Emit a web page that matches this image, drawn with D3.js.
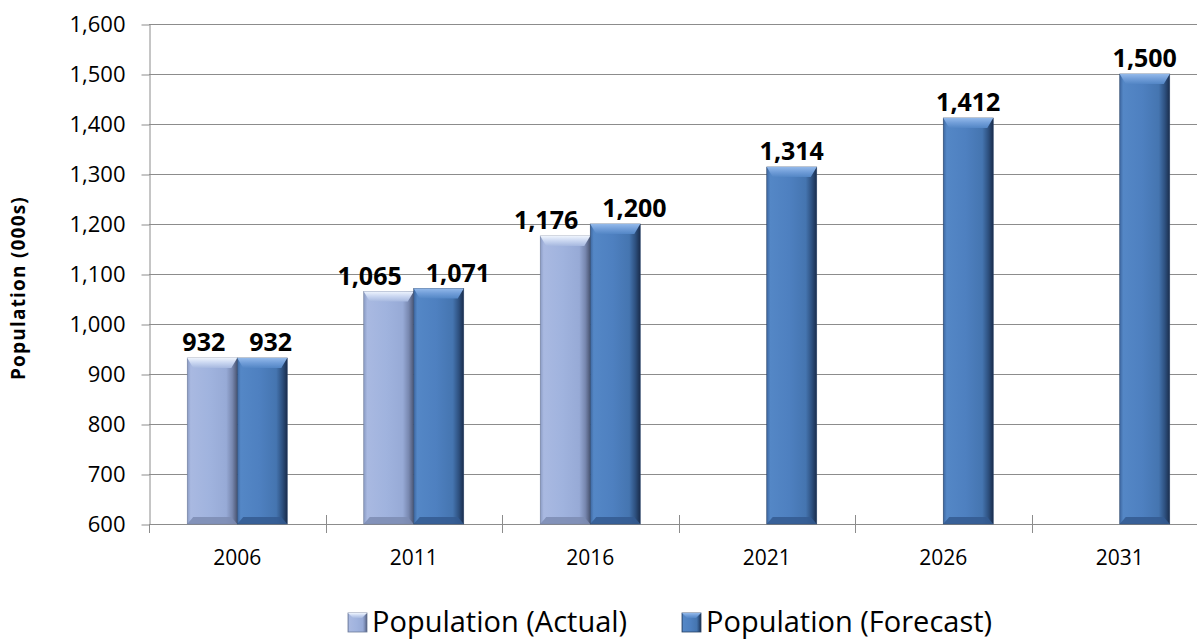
<!DOCTYPE html>
<html>
<head>
<meta charset="utf-8">
<script src="https://cdn.jsdelivr.net/npm/d3@7"></script>
<style>
  html, body { margin: 0; padding: 0; background: #fff; }
  svg { display: block; }
  text { font-family: "Open Sans", "DejaVu Sans", sans-serif; fill: #000; }
</style>
</head>
<body>
<svg id="chart" width="1198" height="639"></svg>
<script>
// Census years and population (thousands)
const years = ["2006", "2011", "2016", "2021", "2026", "2031"];
const actualValues = [932, 1065, 1176, null, null, null];
const forecastValues = [932, 1071, 1200, 1314, 1412, 1500];
const seriesNames = ["Population (Actual)", "Population (Forecast)"];
const yTicks = [600, 700, 800, 900, 1000, 1100, 1200, 1300, 1400, 1500, 1600];

const svg = d3.select("#chart");
const plotLeft = 149, plotTop = 24, plotBottom = 524, plotRight = 1208, clipRight = 1197;

const x = d3.scaleBand().domain(years).range([plotLeft, plotRight]).padding(0);
const barW = 50;
const sub = d3.scaleBand().domain(["a", "f"])
  .range([x.bandwidth() / 2 - barW, x.bandwidth() / 2 + barW]).padding(0);
const y = d3.scaleLinear().domain([600, 1600]).range([plotBottom, plotTop]);

// Gradients for the bevelled bars
const defs = svg.append("defs");
function hGrad(id, stops) {
  const g = defs.append("linearGradient").attr("id", id)
    .attr("x1", "0").attr("x2", "1").attr("y1", "0").attr("y2", "0");
  stops.forEach(s => g.append("stop").attr("offset", s[0]).attr("stop-color", s[1]));
}
function vGrad(id, stops) {
  const g = defs.append("linearGradient").attr("id", id)
    .attr("x1", "0").attr("x2", "0").attr("y1", "0").attr("y2", "1");
  stops.forEach(s => g.append("stop").attr("offset", s[0]).attr("stop-color", s[1]));
}
hGrad("bodyA", [[0, "#8a9bc4"], [0.07, "#a9b9e1"], [0.45, "#a0b3de"], [0.78, "#97aad6"], [0.9, "#7888b0"], [1, "#4a5572"]]);
hGrad("bodyF", [[0, "#3d67a0"], [0.07, "#5487c6"], [0.45, "#4e80c0"], [0.78, "#4575b0"], [0.9, "#2e5180"], [1, "#1a2d4c"]]);
vGrad("capA", [[0, "#eef4fd"], [0.5, "#c8d5f0"], [1, "#a6b8df"]]);
vGrad("capF", [[0, "#93b9ea"], [0.5, "#709dd8"], [1, "#5386c5"]]);

const theme = {
  a: { body: "url(#bodyA)", cap: "url(#capA)", base: "#7d8cb3", edge: "#6d7a99" },
  f: { body: "url(#bodyF)", cap: "url(#capF)", base: "#345b90", edge: "#2a4468" }
};

// Gridlines
svg.append("g").selectAll("line").data(yTicks.slice(1)).join("line")
  .attr("x1", plotLeft).attr("x2", clipRight)
  .attr("y1", d => Math.round(y(d)) + 0.5).attr("y2", d => Math.round(y(d)) + 0.5)
  .attr("stroke", "#8c8c8c").attr("stroke-width", 1);

// Y axis
const yAxis = svg.append("g").attr("transform", `translate(${plotLeft + 0.5},0.5)`)
  .call(d3.axisLeft(y).tickValues(yTicks).tickFormat(d3.format(",")).tickSizeInner(8).tickSizeOuter(0).tickPadding(16));
yAxis.select(".domain").attr("stroke", "#8c8c8c");
yAxis.selectAll(".tick line").attr("stroke", "#8c8c8c");
yAxis.selectAll(".tick text").style("font-size", "22px").style("font-family", "\"Open Sans\", sans-serif");

// X axis line and crossing tick marks at category boundaries
const xg = svg.append("g");
xg.append("line").attr("x1", plotLeft).attr("x2", clipRight)
  .attr("y1", plotBottom + 0.5).attr("y2", plotBottom + 0.5).attr("stroke", "#8c8c8c");
xg.append("line").attr("x1", plotLeft + 0.5).attr("x2", plotLeft + 0.5)
  .attr("y1", plotBottom).attr("y2", plotBottom + 9).attr("stroke", "#8c8c8c");
xg.selectAll("line.tk").data(years.slice(1)).join("line").attr("class", "tk")
  .attr("x1", d => Math.round(x(d)) + 0.5).attr("x2", d => Math.round(x(d)) + 0.5)
  .attr("y1", plotBottom - 9).attr("y2", plotBottom + 9).attr("stroke", "#8c8c8c");
xg.selectAll("text").data(years).join("text")
  .attr("x", d => x(d) + x.bandwidth() / 2).attr("y", 565)
  .attr("text-anchor", "middle").style("font-size", "21px").text(d => d);

// Bars
const bars = [];
years.forEach((yr, i) => {
  if (actualValues[i] != null) bars.push({ yr, key: "a", v: actualValues[i], pair: true });
  if (forecastValues[i] != null) bars.push({ yr, key: "f", v: forecastValues[i], pair: actualValues[i] != null });
});

const bg = svg.append("g");
bars.forEach(b => {
  const x0 = x(b.yr) + sub(b.key);
  const y0 = y(b.v), y1 = y(600);
  const t = theme[b.key];
  const g = bg.append("g");
  g.append("rect").attr("x", x0).attr("y", y0).attr("width", barW).attr("height", y1 - y0)
    .attr("fill", t.body).attr("stroke", t.edge).attr("stroke-width", 0.6);
  // top bevel
  const cap = 10;
  g.append("path")
    .attr("d", `M${x0},${y0} L${x0 + barW},${y0} L${x0 + barW - 6},${y0 + cap} L${x0 + 6},${y0 + cap} Z`)
    .attr("fill", t.cap);
  // bottom bevel
  g.append("path")
    .attr("d", `M${x0},${y1} L${x0 + barW},${y1} L${x0 + barW - 6},${y1 - 7} L${x0 + 6},${y1 - 7} Z`)
    .attr("fill", t.base).attr("opacity", 0.85);
});

// Value labels: paired labels are spread apart around the category centre
svg.append("g").selectAll("text").data(bars).join("text")
  .attr("x", d => {
    const c = x(d.yr) + x.bandwidth() / 2;
    if (!d.pair) return x(d.yr) + sub(d.key) + barW / 2;
    return d.key === "a" ? c - 12 : c + 12;
  })
  .attr("y", d => y(d.v) - 7)
  .attr("text-anchor", d => !d.pair ? "middle" : (d.key === "a" ? "end" : "start"))
  .style("font-size", "25px").style("font-weight", "bold")
  .text(d => d3.format(",")(d.v));

// Y axis title
svg.append("text").attr("transform", "translate(25,288) rotate(-90)")
  .attr("text-anchor", "middle").style("font-size", "19px").style("font-weight", "bold")
  .style("letter-spacing", "1.2px")
  .text("Population (000s)");

// Legend
const legendItems = [
  { name: seriesNames[0], key: "a", x: 348 },
  { name: seriesNames[1], key: "f", x: 682 }
];
const lg = svg.append("g");
legendItems.forEach(it => {
  const s = 19, ly = 613;
  const t = theme[it.key];
  lg.append("rect").attr("x", it.x).attr("y", ly).attr("width", s).attr("height", s)
    .attr("fill", t.body).attr("stroke", t.edge).attr("stroke-width", 0.8);
  lg.append("path")
    .attr("d", `M${it.x},${ly} L${it.x + s},${ly} L${it.x + s - 5},${ly + 5} L${it.x + 5},${ly + 5} Z`)
    .attr("fill", t.cap);
  lg.append("text").attr("x", it.x + s + 5).attr("y", 632)
    .style("font-size", "29px").text(it.name);
});
</script>
</body>
</html>
